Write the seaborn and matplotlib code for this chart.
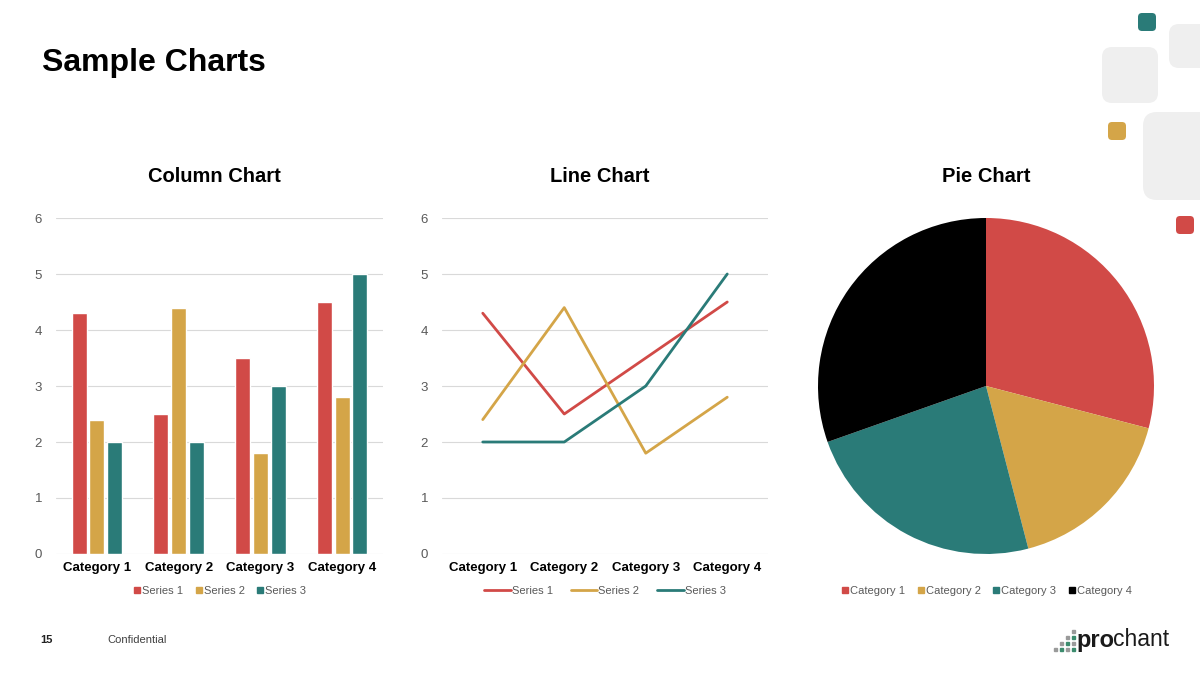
import matplotlib
matplotlib.use("Agg")
import matplotlib.pyplot as plt
from matplotlib.patches import FancyBboxPatch
from matplotlib.lines import Line2D
import seaborn as sns
import pandas as pd
import numpy as np

# ---- data ----
categories = ["Category 1", "Category 2", "Category 3", "Category 4"]
series_names = ["Series 1", "Series 2", "Series 3"]
series1 = [4.3, 2.5, 3.5, 4.5]
series2 = [2.4, 4.4, 1.8, 2.8]
series3 = [2.0, 2.0, 3.0, 5.0]
pie_values = [4.3, 2.5, 3.5, 4.5]
y_ticks = [0, 1, 2, 3, 4, 5, 6]

colors = ["#D14A47", "#D4A548", "#2A7B78", "#000000"]
grid_c = "#D9D9D9"
tick_c = "#595959"

sns.set_theme(style="white")
plt.rcParams["font.family"] = ["Liberation Sans", "DejaVu Sans"]
plt.rcParams["text.color"] = "black"

df = pd.DataFrame({
    "category": categories * 3,
    "series": sum([[s] * 4 for s in series_names], []),
    "value": series1 + series2 + series3,
})

W, H = 1200, 675
fig = plt.figure(figsize=(12, 6.75), dpi=100)
fig.patch.set_facecolor("white")

def fx(px):
    return px / W

def fy(py):
    return 1 - py / H

def style_axes(ax):
    ax.set_ylim(0, 6)
    ax.set_xlim(-0.5, 3.5)
    ax.set_yticks(y_ticks)
    ax.yaxis.grid(True, color=grid_c, linewidth=0.8)
    ax.set_axisbelow(True)
    for s in ax.spines.values():
        s.set_visible(False)
    ax.tick_params(axis="y", length=0, pad=10, labelsize=9.5, labelcolor=tick_c)
    ax.tick_params(axis="x", length=0, pad=6, labelsize=9.5, labelcolor="black")
    for lab in ax.get_xticklabels():
        lab.set_fontweight("bold")
    ax.set_xlabel("")
    ax.set_ylabel("")

# ---- column chart ----
ax1 = fig.add_axes([fx(56), fy(554), fx(383 - 56), (554 - 218) / H])
sns.barplot(data=df, x="category", y="value", hue="series", palette=colors[:3],
            width=0.65, gap=0.15, ax=ax1, legend=False, saturation=1)
style_axes(ax1)
handles = [Line2D([], [], marker="s", linestyle="none", markersize=5,
                  markerfacecolor=c, markeredgecolor=c) for c in colors[:3]]
ax1.legend(handles, series_names, loc="center", bbox_to_anchor=(0.5, -0.11),
           ncol=3, frameon=False, fontsize=8, labelcolor=tick_c,
           handletextpad=0.05, columnspacing=1.0, handlelength=0.8)

# ---- line chart ----
ax2 = fig.add_axes([fx(442), fy(554), fx(768 - 442), (554 - 218) / H])
sns.lineplot(data=df, x="category", y="value", hue="series", palette=colors[:3],
             linewidth=2.0, ax=ax2, legend=False, sort=False)
style_axes(ax2)
lhandles = [Line2D([], [], color=c, linewidth=2.0) for c in colors[:3]]
ax2.legend(lhandles, series_names, loc="center", bbox_to_anchor=(0.5, -0.11),
           ncol=3, frameon=False, fontsize=8, labelcolor=tick_c,
           handletextpad=0.1, columnspacing=1.6, handlelength=2.4)

# ---- pie chart ----
ax3 = fig.add_axes([fx(818), fy(554), 336 / W, 336 / H])
ax3.pie(pie_values, colors=colors, startangle=90, counterclock=False,
        radius=1.0, wedgeprops=dict(linewidth=0))
ax3.set_xlim(-1, 1)
ax3.set_ylim(-1, 1)
ax3.set_aspect("equal")
phandles = [Line2D([], [], marker="s", linestyle="none", markersize=5,
                   markerfacecolor=c, markeredgecolor=c) for c in colors]
ax3.legend(phandles, categories, loc="center", bbox_to_anchor=(0.5, -0.11),
           ncol=4, frameon=False, fontsize=8, labelcolor=tick_c,
           handletextpad=0.05, columnspacing=1.0, handlelength=0.8)

# ---- titles ----
fig.text(fx(42), fy(63), "Sample Charts", fontsize=23, fontweight="bold",
         ha="left", va="center", color="black")
for cx, t in [(214, "Column Chart"), (600, "Line Chart"), (986, "Pie Chart")]:
    fig.text(fx(cx), fy(177), t, fontsize=14.5, fontweight="bold",
             ha="center", va="center", color="black")

# ---- footer ----
fig.text(fx(40), fy(640), "15", fontsize=8, fontweight="bold", ha="left",
         va="center", color="#222222")
fig.text(fx(107), fy(640), "Confidential", fontsize=8, ha="left", va="center",
         color="#404040")

# logo
fig.text(fx(1076), fy(640), "pro", fontsize=17, fontweight="bold", ha="left",
         va="center", color="#1a1a1a")
fig.text(fx(1113), fy(640), "chant", fontsize=16.5, ha="left", va="center",
         color="#1a1a1a")
dot_cells = [(3, 0), (2, 1), (3, 1), (1, 2), (2, 2), (3, 2), (0, 3), (1, 3), (2, 3), (3, 3)]
for ci, ri in dot_cells:
    cx = 1055 + ci * 6
    cy = 631 + ri * 6
    c = "#3C8C6E" if (ci + ri) % 2 == 0 else "#9A9A9A"
    fig.patches.append(plt.Rectangle((fx(cx) - 1.5 / W, fy(cy) - 1.5 / H), 3 / W, 3 / H,
                                     transform=fig.transFigure, color=c))

# ---- decorative rounded squares ----
def rbox(x0, y0, x1, y1, color, r):
    p = FancyBboxPatch((fx(x0), fy(y1)), fx(x1 - x0), (y1 - y0) / H,
                       boxstyle=f"round,pad=0,rounding_size={r / W}",
                       transform=fig.transFigure, facecolor=color,
                       edgecolor="none", mutation_aspect=W / H)
    fig.patches.append(p)

grey = "#EFEFEF"
rbox(1102, 47, 1158, 103, grey, 10)
rbox(1169, 24, 1215, 68, grey, 10)
rbox(1143, 112, 1215, 200, grey, 14)
rbox(1138, 13, 1156, 31, colors[2], 4)
rbox(1108, 122, 1126, 140, colors[1], 4)
rbox(1176, 216, 1194, 234, colors[0], 4)

fig.savefig("out.png", dpi=100, facecolor="white")
